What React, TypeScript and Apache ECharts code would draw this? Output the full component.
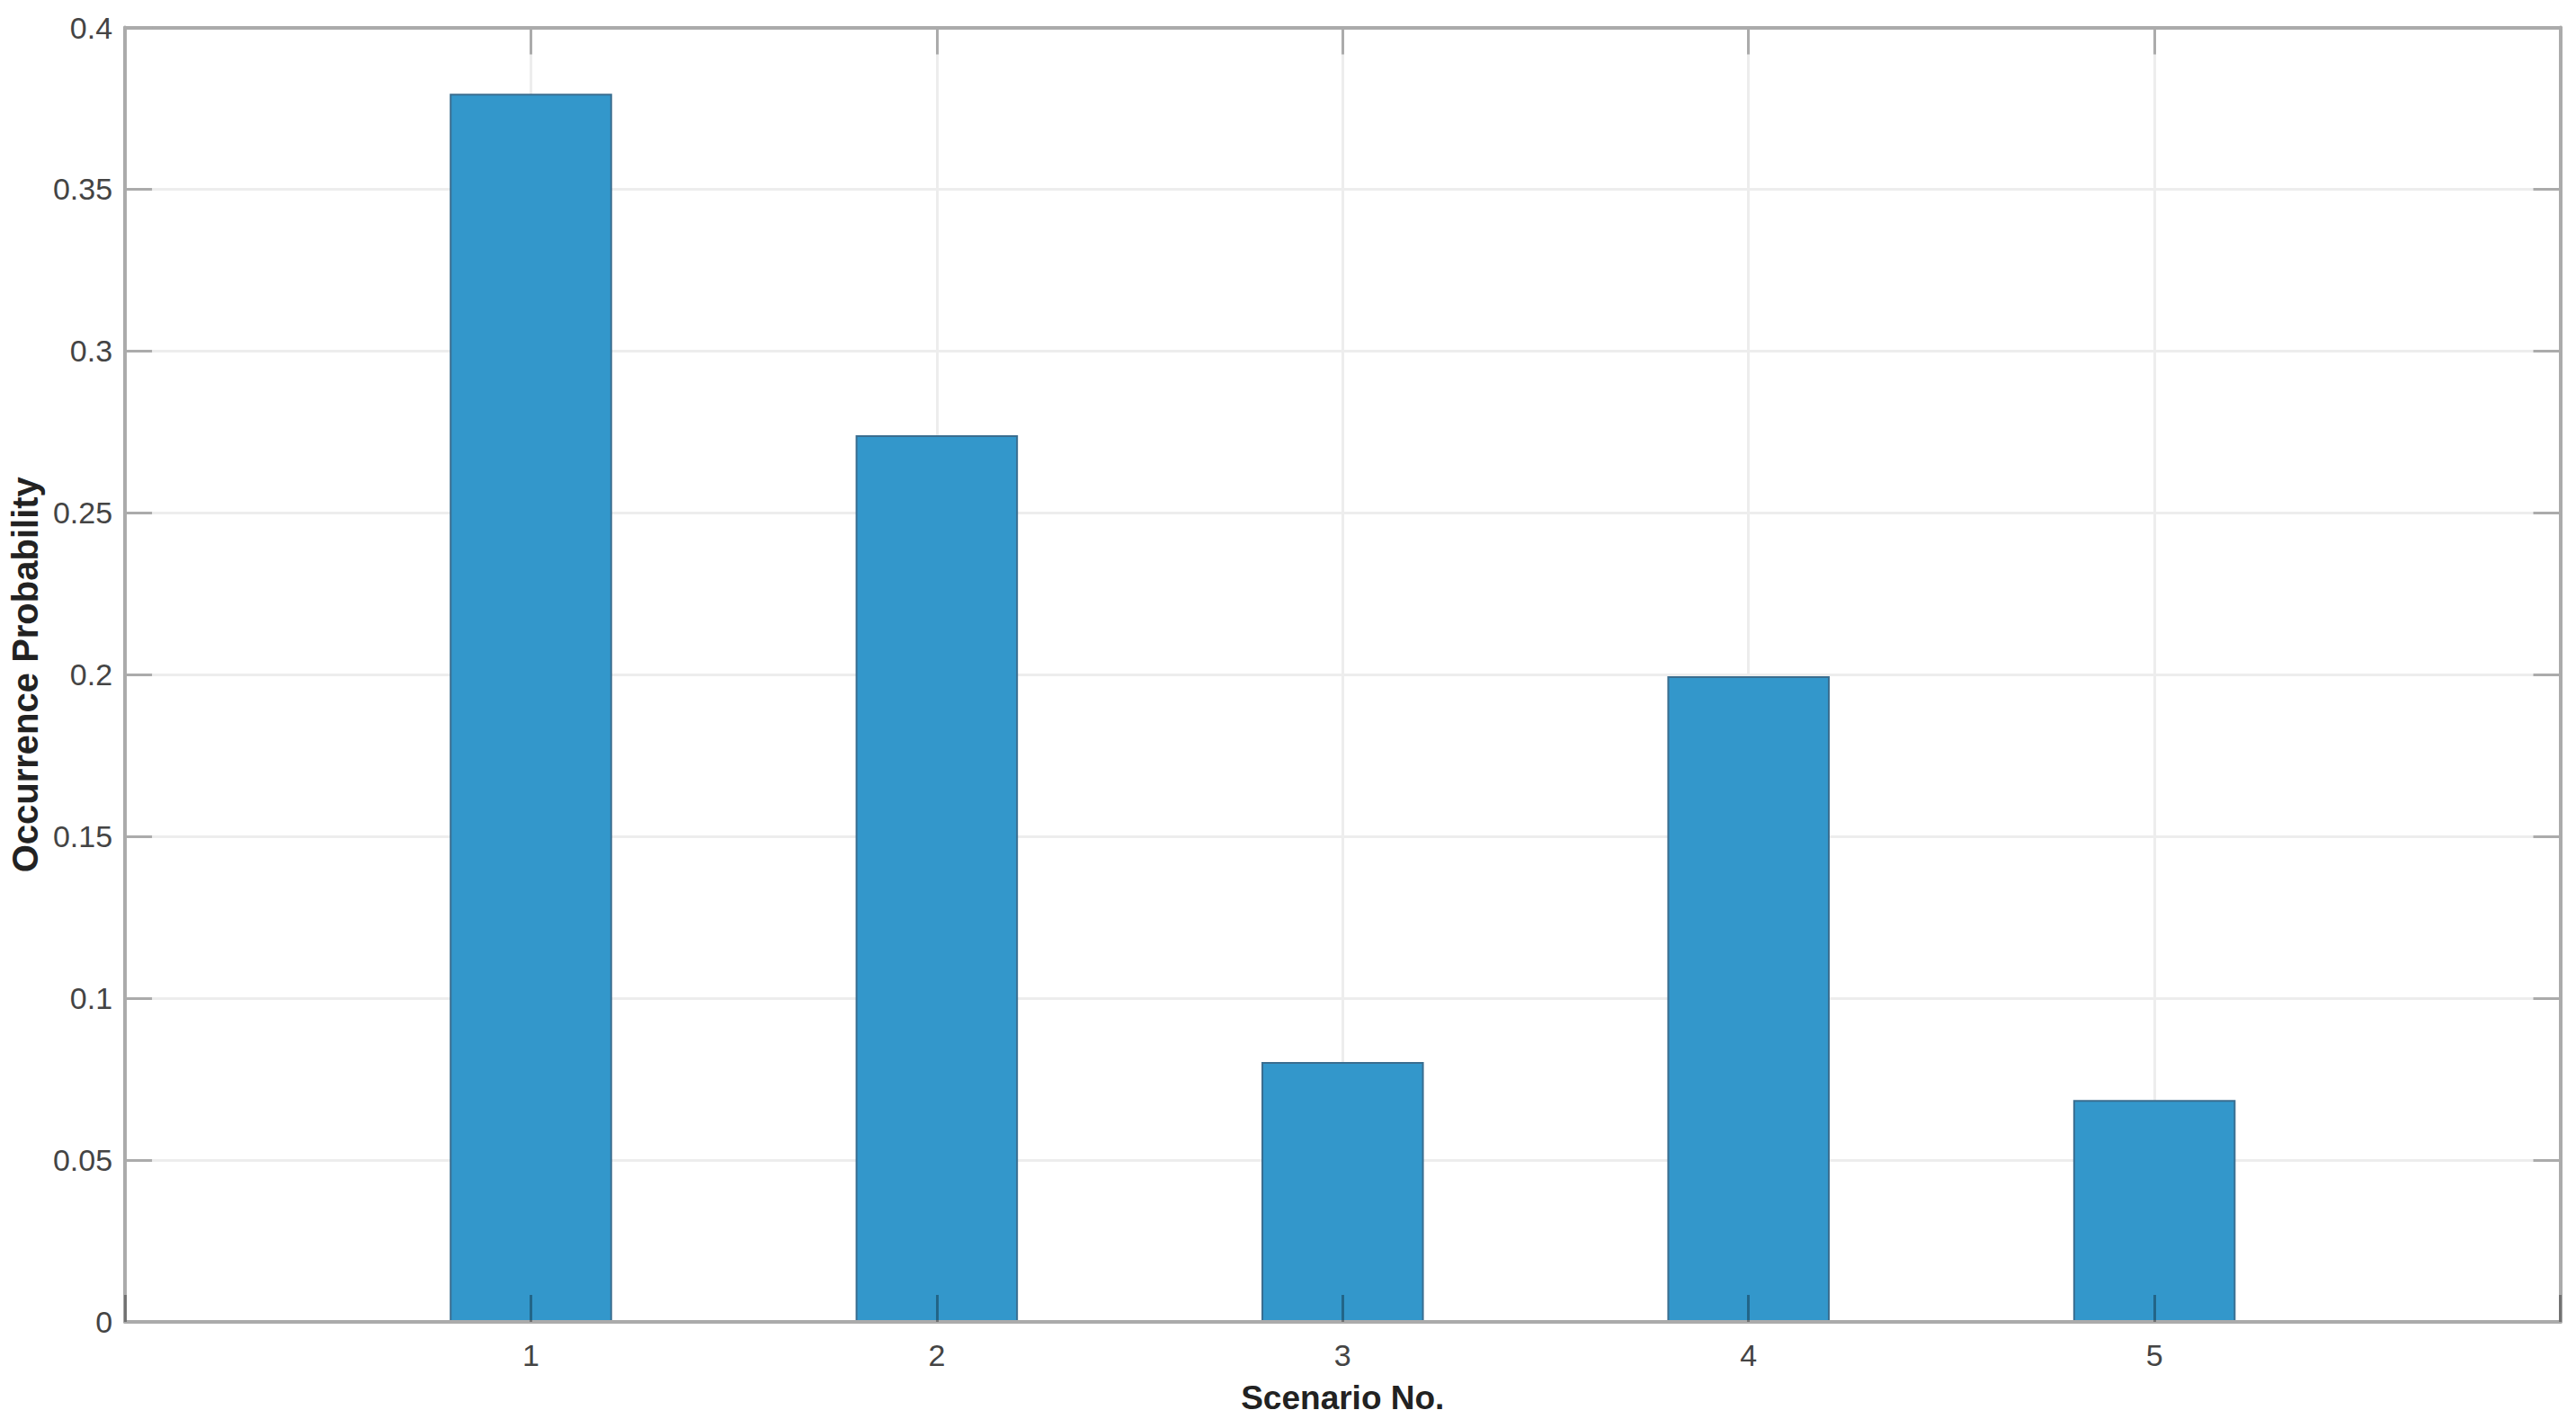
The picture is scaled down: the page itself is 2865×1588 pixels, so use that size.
import React, { useEffect, useRef } from "react";
import * as echarts from "echarts";

const scenarios = [1, 2, 3, 4, 5];
const probabilities = [0.3795, 0.274, 0.0803, 0.1995, 0.0686];
const xTickLabels = ["", "1", "2", "3", "4", "5", ""];
const xName = "Scenario No.";
const yName = "Occurrence Probability";

const AXIS_COLOR = "#ABABAB";
const GRID_COLOR = "#EDEDED";
const TEXT_COLOR = "#444444";
const FONT = "Arial, 'Liberation Sans', Helvetica, sans-serif";

export default function App() {
  const ref = useRef<HTMLDivElement>(null);
  useEffect(() => {
    if (!ref.current) return;
    const chart = echarts.init(ref.current, undefined, { renderer: "svg" });
    const tickCommon = {
      show: true,
      inside: true,
      length: 30,
      lineStyle: { color: AXIS_COLOR, width: 3 },
    };
    const lineCommon = { show: true, lineStyle: { color: AXIS_COLOR, width: 4 } };
    chart.setOption({
      animation: false,
      backgroundColor: "#ffffff",
      grid: { left: 138.5, right: 17.5, top: 30.5, bottom: 118, containLabel: false },
      xAxis: [
        {
          type: "value",
          min: 0,
          max: 6,
          interval: 1,
          position: "bottom",
          z: 10,
          axisLine: { ...lineCommon, onZero: false },
          axisTick: { ...tickCommon, lineStyle: { color: "rgba(0,0,0,0.33)", width: 3 } },
          splitLine: { show: false },
          axisLabel: {
            formatter: (v: number) => xTickLabels[Math.round(v)] ?? "",
            color: TEXT_COLOR,
            fontSize: 34,
            fontFamily: FONT,
            margin: 20,
          },
          name: xName,
          nameLocation: "middle",
          nameGap: 66,
          nameTextStyle: { fontSize: 37, fontWeight: "bold", color: "#222222", fontFamily: FONT },
        },
        {
          type: "value",
          min: 0,
          max: 6,
          interval: 1,
          position: "top",
          axisLine: { ...lineCommon, onZero: false },
          axisTick: tickCommon,
          splitLine: { show: true, lineStyle: { color: GRID_COLOR, width: 3 } },
          axisLabel: { show: false },
        },
      ],
      yAxis: [
        {
          type: "value",
          min: 0,
          max: 0.4,
          interval: 0.05,
          position: "left",
          axisLine: { ...lineCommon, onZero: false },
          axisTick: tickCommon,
          splitLine: { show: true, lineStyle: { color: GRID_COLOR, width: 3 } },
          axisLabel: {
            color: TEXT_COLOR,
            fontSize: 34,
            fontFamily: FONT,
            margin: 14,
          },
          name: yName,
          nameLocation: "middle",
          nameGap: 88,
          nameRotate: 90,
          nameTextStyle: { fontSize: 40, fontWeight: "bold", color: "#222222", fontFamily: FONT },
        },
        {
          type: "value",
          min: 0,
          max: 0.4,
          interval: 0.05,
          position: "right",
          axisLine: { ...lineCommon, onZero: false },
          axisTick: tickCommon,
          splitLine: { show: false },
          axisLabel: { show: false },
        },
      ],
      series: [
        {
          type: "bar",
          xAxisIndex: 0,
          yAxisIndex: 0,
          data: scenarios.map((s, i) => [s, probabilities[i]]),
          barWidth: "40%",
          itemStyle: { color: "#3397CB", borderColor: "#3A6E90", borderWidth: 2 },
        },
      ],
    });
    return () => chart.dispose();
  }, []);
  return (
    <div
      ref={ref}
      style={{ position: "absolute", left: 0, top: 0, width: 2865, height: 1588 }}
    />
  );
}
